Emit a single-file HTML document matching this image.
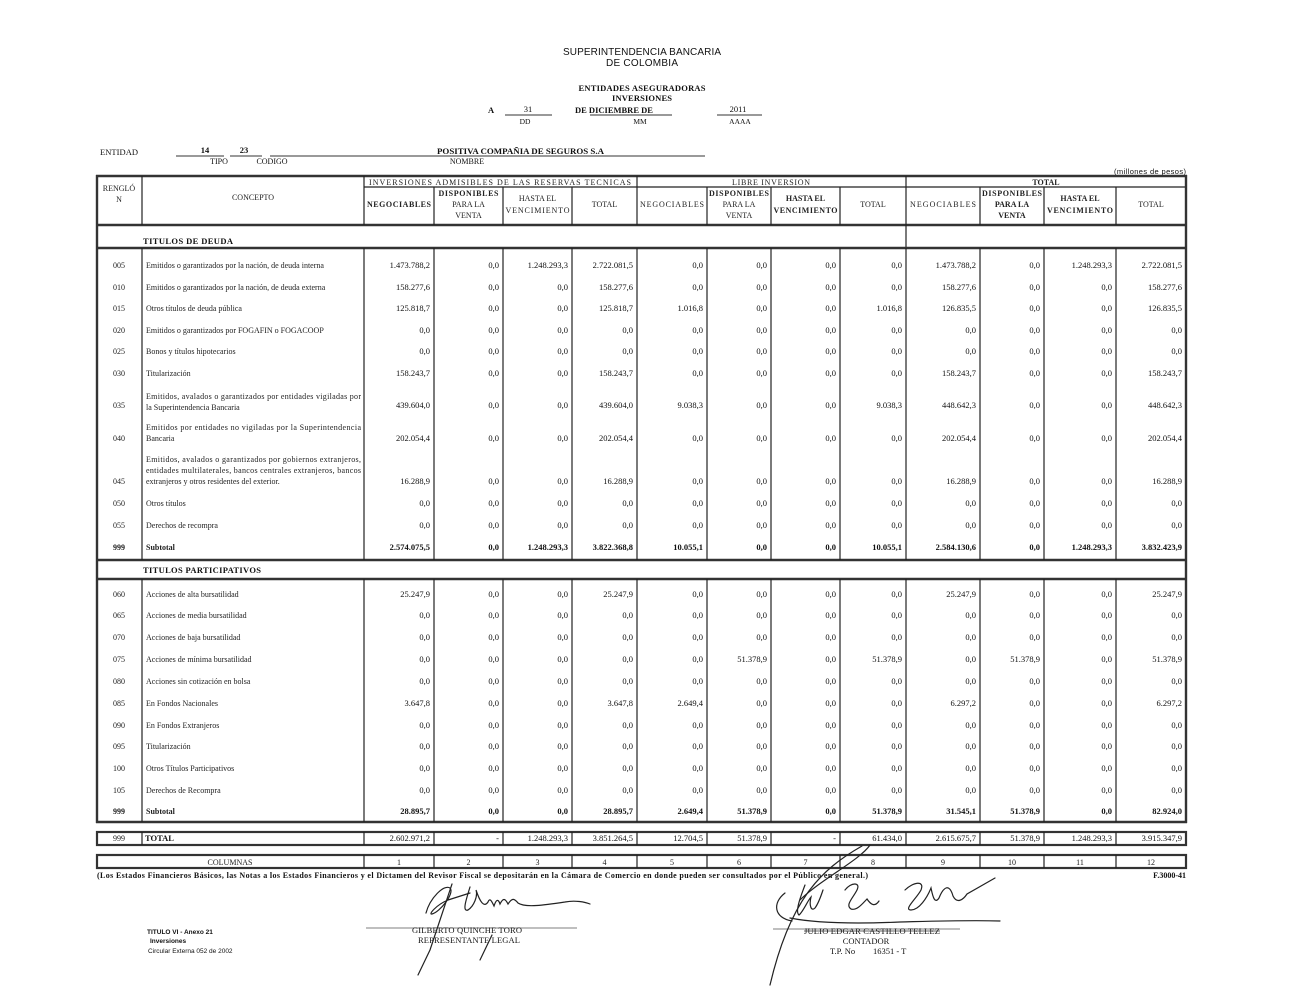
<!DOCTYPE html>
<html><head><meta charset="utf-8">
<style>
html,body{margin:0;padding:0;background:#fff;}
svg{display:block;}
.s{font-family:"Liberation Serif",serif;fill:#111;}
.ss{font-family:"Liberation Sans",sans-serif;fill:#111;}
.b{font-weight:bold;}
.n{font-family:"Liberation Serif",serif;font-size:8.5px;fill:#111;text-anchor:end;}
.c{font-family:"Liberation Serif",serif;font-size:8px;fill:#222;}
.k{font-family:"Liberation Serif",serif;font-size:8px;fill:#222;text-anchor:middle;}
.h{font-family:"Liberation Serif",serif;font-size:8px;fill:#222;text-anchor:middle;}
.m{text-anchor:middle;}
.L{stroke:#222;stroke-width:1.2;}
.T{stroke:#333;stroke-width:2.4;}
.sig{fill:none;stroke:#222;stroke-width:1.2;stroke-linecap:round;}
</style></head>
<body>
<svg width="1294" height="1000" viewBox="0 0 1294 1000" xmlns="http://www.w3.org/2000/svg">
<rect width="1294" height="1000" fill="#fff"/>

<!-- Title -->
<text class="ss m" x="642" y="55" font-size="10" textLength="158">SUPERINTENDENCIA BANCARIA</text>
<text class="ss m" x="642" y="66" font-size="10" textLength="72">DE COLOMBIA</text>
<text class="s b m" x="642" y="91" font-size="8.5" textLength="127">ENTIDADES ASEGURADORAS</text>
<text class="s b m" x="642" y="101" font-size="8.5" textLength="60">INVERSIONES</text>
<text class="s b" x="488" y="113" font-size="8.5">A</text>
<text class="s m" x="528" y="112" font-size="8.5">31</text>
<line x1="505" y1="115" x2="552" y2="115" stroke="#333" stroke-width="1"/>
<text class="s b" x="575" y="113" font-size="8.5">DE DICIEMBRE  DE</text>
<line x1="590" y1="115" x2="672" y2="115" stroke="#333" stroke-width="1"/>
<text class="s m" x="738" y="112" font-size="8.5">2011</text>
<line x1="717" y1="115" x2="762" y2="115" stroke="#333" stroke-width="1"/>
<text class="s m" x="525" y="124" font-size="7.5">DD</text>
<text class="s m" x="640" y="124" font-size="7.5">MM</text>
<text class="s m" x="740" y="124" font-size="7.5">AAAA</text>

<text class="s" x="100" y="155" font-size="8.5" textLength="38">ENTIDAD</text>
<text class="s b m" x="205" y="153" font-size="8.5">14</text>
<line x1="176" y1="156" x2="224" y2="156" stroke="#333" stroke-width="1"/>
<text class="s b m" x="244" y="153" font-size="8.5">23</text>
<line x1="230" y1="156" x2="262" y2="156" stroke="#333" stroke-width="1"/>
<line x1="270" y1="156" x2="705" y2="156" stroke="#333" stroke-width="1"/>
<text class="s b" x="437" y="154" font-size="8.5" textLength="167" lengthAdjust="spacingAndGlyphs">POSITIVA COMPAÑIA DE SEGUROS S.A</text>
<text class="s m" x="219" y="164" font-size="8">TIPO</text>
<text class="s m" x="272" y="164" font-size="8">CODIGO</text>
<text class="s m" x="467" y="164" font-size="8">NOMBRE</text>
<text class="ss" x="1114" y="174" font-size="7.5" textLength="72">(millones de pesos)</text>

<!-- Header -->
<line class="T" x1="96" y1="176" x2="1187" y2="176"/>
<line class="L" x1="364" y1="187" x2="1186" y2="187"/>
<line class="T" x1="96" y1="225" x2="1187" y2="225"/>
<line class="L" x1="142" y1="176" x2="142" y2="225"/>
<line class="L" x1="364" y1="176" x2="364" y2="225"/>
<line class="L" x1="637" y1="176" x2="637" y2="225"/>
<line class="L" x1="906" y1="176" x2="906" y2="225"/>
<line class="L" x1="434" y1="187" x2="434" y2="225"/>
<line class="L" x1="503" y1="187" x2="503" y2="225"/>
<line class="L" x1="572" y1="187" x2="572" y2="225"/>
<line class="L" x1="707" y1="187" x2="707" y2="225"/>
<line class="L" x1="771" y1="187" x2="771" y2="225"/>
<line class="L" x1="840" y1="187" x2="840" y2="225"/>
<line class="L" x1="980" y1="187" x2="980" y2="225"/>
<line class="L" x1="1044" y1="187" x2="1044" y2="225"/>
<line class="L" x1="1116" y1="187" x2="1116" y2="225"/>

<text class="h" x="119" y="191">RENGLÓ</text>
<text class="h" x="119" y="202">N</text>
<text class="h" x="253" y="200">CONCEPTO</text>
<text class="h" x="500" y="185" textLength="262">INVERSIONES ADMISIBLES DE LAS RESERVAS TECNICAS</text>
<text class="h" x="771" y="185" textLength="78">LIBRE INVERSION</text>
<text class="h b" x="1046" y="185">TOTAL</text>

<text class="h b" x="399" y="207" textLength="64">NEGOCIABLES</text>
<text class="h b" x="468.5" y="196" textLength="60">DISPONIBLES</text>
<text class="h" x="468.5" y="207">PARA LA</text>
<text class="h" x="468.5" y="218">VENTA</text>
<text class="h" x="537.5" y="201">HASTA EL</text>
<text class="h" x="537.5" y="213" textLength="64">VENCIMIENTO</text>
<text class="h" x="604.5" y="207">TOTAL</text>

<text class="h" x="672" y="207" textLength="64">NEGOCIABLES</text>
<text class="h b" x="739" y="196" textLength="60">DISPONIBLES</text>
<text class="h" x="739" y="207">PARA LA</text>
<text class="h" x="739" y="218">VENTA</text>
<text class="h b" x="805.5" y="201">HASTA EL</text>
<text class="h b" x="805.5" y="213" textLength="64">VENCIMIENTO</text>
<text class="h" x="873" y="207">TOTAL</text>

<text class="h" x="943" y="207" textLength="66">NEGOCIABLES</text>
<text class="h b" x="1012" y="196" textLength="60">DISPONIBLES</text>
<text class="h b" x="1012" y="207">PARA LA</text>
<text class="h b" x="1012" y="218">VENTA</text>
<text class="h b" x="1080" y="201">HASTA EL</text>
<text class="h b" x="1080" y="213" textLength="66">VENCIMIENTO</text>
<text class="h" x="1151" y="207">TOTAL</text>

<!-- Outer left/right borders -->
<line class="T" x1="97" y1="175" x2="97" y2="823"/>
<line class="T" x1="1186" y1="175" x2="1186" y2="823"/>

<!-- Titulos de deuda row -->
<text class="s b" x="143" y="244" font-size="8.5" textLength="90">TITULOS DE DEUDA</text>
<line class="L" x1="906" y1="225" x2="906" y2="248"/>
<line class="T" x1="96" y1="248" x2="1187" y2="248"/>
<line class="T" x1="96" y1="560" x2="1187" y2="560"/>
<g>
<line class="L" x1="142" y1="248" x2="142" y2="560"/>
<line class="L" x1="364" y1="248" x2="364" y2="560"/>
<line class="L" x1="434" y1="248" x2="434" y2="560"/>
<line class="L" x1="503" y1="248" x2="503" y2="560"/>
<line class="L" x1="572" y1="248" x2="572" y2="560"/>
<line class="L" x1="637" y1="248" x2="637" y2="560"/>
<line class="L" x1="707" y1="248" x2="707" y2="560"/>
<line class="L" x1="771" y1="248" x2="771" y2="560"/>
<line class="L" x1="840" y1="248" x2="840" y2="560"/>
<line class="L" x1="906" y1="248" x2="906" y2="560"/>
<line class="L" x1="980" y1="248" x2="980" y2="560"/>
<line class="L" x1="1044" y1="248" x2="1044" y2="560"/>
<line class="L" x1="1116" y1="248" x2="1116" y2="560"/>
</g>

<!-- Section 1 rows -->
<text class="k" x="119" y="268">005</text>
<text class="c" x="146" y="268">Emitidos o garantizados por la nación, de deuda interna</text>
<text class="n" x="430" y="268">1.473.788,2</text><text class="n" x="499" y="268">0,0</text><text class="n" x="568" y="268">1.248.293,3</text><text class="n" x="633" y="268">2.722.081,5</text><text class="n" x="703" y="268">0,0</text><text class="n" x="767" y="268">0,0</text><text class="n" x="836" y="268">0,0</text><text class="n" x="902" y="268">0,0</text><text class="n" x="976" y="268">1.473.788,2</text><text class="n" x="1040" y="268">0,0</text><text class="n" x="1112" y="268">1.248.293,3</text><text class="n" x="1182" y="268">2.722.081,5</text>

<text class="k" x="119" y="290">010</text>
<text class="c" x="146" y="290">Emitidos o garantizados por la nación, de deuda externa</text>
<text class="n" x="430" y="290">158.277,6</text><text class="n" x="499" y="290">0,0</text><text class="n" x="568" y="290">0,0</text><text class="n" x="633" y="290">158.277,6</text><text class="n" x="703" y="290">0,0</text><text class="n" x="767" y="290">0,0</text><text class="n" x="836" y="290">0,0</text><text class="n" x="902" y="290">0,0</text><text class="n" x="976" y="290">158.277,6</text><text class="n" x="1040" y="290">0,0</text><text class="n" x="1112" y="290">0,0</text><text class="n" x="1182" y="290">158.277,6</text>

<text class="k" x="119" y="311">015</text>
<text class="c" x="146" y="311">Otros títulos de deuda pública</text>
<text class="n" x="430" y="311">125.818,7</text><text class="n" x="499" y="311">0,0</text><text class="n" x="568" y="311">0,0</text><text class="n" x="633" y="311">125.818,7</text><text class="n" x="703" y="311">1.016,8</text><text class="n" x="767" y="311">0,0</text><text class="n" x="836" y="311">0,0</text><text class="n" x="902" y="311">1.016,8</text><text class="n" x="976" y="311">126.835,5</text><text class="n" x="1040" y="311">0,0</text><text class="n" x="1112" y="311">0,0</text><text class="n" x="1182" y="311">126.835,5</text>

<text class="k" x="119" y="333">020</text>
<text class="c" x="146" y="333">Emitidos o garantizados por FOGAFIN o FOGACOOP</text>
<text class="n" x="430" y="333">0,0</text><text class="n" x="499" y="333">0,0</text><text class="n" x="568" y="333">0,0</text><text class="n" x="633" y="333">0,0</text><text class="n" x="703" y="333">0,0</text><text class="n" x="767" y="333">0,0</text><text class="n" x="836" y="333">0,0</text><text class="n" x="902" y="333">0,0</text><text class="n" x="976" y="333">0,0</text><text class="n" x="1040" y="333">0,0</text><text class="n" x="1112" y="333">0,0</text><text class="n" x="1182" y="333">0,0</text>

<text class="k" x="119" y="354">025</text>
<text class="c" x="146" y="354">Bonos y títulos hipotecarios</text>
<text class="n" x="430" y="354">0,0</text><text class="n" x="499" y="354">0,0</text><text class="n" x="568" y="354">0,0</text><text class="n" x="633" y="354">0,0</text><text class="n" x="703" y="354">0,0</text><text class="n" x="767" y="354">0,0</text><text class="n" x="836" y="354">0,0</text><text class="n" x="902" y="354">0,0</text><text class="n" x="976" y="354">0,0</text><text class="n" x="1040" y="354">0,0</text><text class="n" x="1112" y="354">0,0</text><text class="n" x="1182" y="354">0,0</text>

<text class="k" x="119" y="376">030</text>
<text class="c" x="146" y="376">Titularización</text>
<text class="n" x="430" y="376">158.243,7</text><text class="n" x="499" y="376">0,0</text><text class="n" x="568" y="376">0,0</text><text class="n" x="633" y="376">158.243,7</text><text class="n" x="703" y="376">0,0</text><text class="n" x="767" y="376">0,0</text><text class="n" x="836" y="376">0,0</text><text class="n" x="902" y="376">0,0</text><text class="n" x="976" y="376">158.243,7</text><text class="n" x="1040" y="376">0,0</text><text class="n" x="1112" y="376">0,0</text><text class="n" x="1182" y="376">158.243,7</text>

<text class="k" x="119" y="408">035</text>
<text class="c" x="146" y="399" textLength="215" lengthAdjust="spacing">Emitidos, avalados o garantizados por entidades vigiladas por</text>
<text class="c" x="146" y="410">la Superintendencia Bancaria</text>
<text class="n" x="430" y="408">439.604,0</text><text class="n" x="499" y="408">0,0</text><text class="n" x="568" y="408">0,0</text><text class="n" x="633" y="408">439.604,0</text><text class="n" x="703" y="408">9.038,3</text><text class="n" x="767" y="408">0,0</text><text class="n" x="836" y="408">0,0</text><text class="n" x="902" y="408">9.038,3</text><text class="n" x="976" y="408">448.642,3</text><text class="n" x="1040" y="408">0,0</text><text class="n" x="1112" y="408">0,0</text><text class="n" x="1182" y="408">448.642,3</text>

<text class="k" x="119" y="441">040</text>
<text class="c" x="146" y="430" textLength="215" lengthAdjust="spacing">Emitidos por entidades no vigiladas por la Superintendencia</text>
<text class="c" x="146" y="441">Bancaria</text>
<text class="n" x="430" y="441">202.054,4</text><text class="n" x="499" y="441">0,0</text><text class="n" x="568" y="441">0,0</text><text class="n" x="633" y="441">202.054,4</text><text class="n" x="703" y="441">0,0</text><text class="n" x="767" y="441">0,0</text><text class="n" x="836" y="441">0,0</text><text class="n" x="902" y="441">0,0</text><text class="n" x="976" y="441">202.054,4</text><text class="n" x="1040" y="441">0,0</text><text class="n" x="1112" y="441">0,0</text><text class="n" x="1182" y="441">202.054,4</text>

<text class="k" x="119" y="484">045</text>
<text class="c" x="146" y="462" textLength="215" lengthAdjust="spacing">Emitidos, avalados o garantizados por gobiernos extranjeros,</text>
<text class="c" x="146" y="473" textLength="215" lengthAdjust="spacing">entidades multilaterales, bancos centrales extranjeros, bancos</text>
<text class="c" x="146" y="484">extranjeros y otros residentes del exterior.</text>
<text class="n" x="430" y="484">16.288,9</text><text class="n" x="499" y="484">0,0</text><text class="n" x="568" y="484">0,0</text><text class="n" x="633" y="484">16.288,9</text><text class="n" x="703" y="484">0,0</text><text class="n" x="767" y="484">0,0</text><text class="n" x="836" y="484">0,0</text><text class="n" x="902" y="484">0,0</text><text class="n" x="976" y="484">16.288,9</text><text class="n" x="1040" y="484">0,0</text><text class="n" x="1112" y="484">0,0</text><text class="n" x="1182" y="484">16.288,9</text>

<text class="k" x="119" y="506">050</text>
<text class="c" x="146" y="506">Otros títulos</text>
<text class="n" x="430" y="506">0,0</text><text class="n" x="499" y="506">0,0</text><text class="n" x="568" y="506">0,0</text><text class="n" x="633" y="506">0,0</text><text class="n" x="703" y="506">0,0</text><text class="n" x="767" y="506">0,0</text><text class="n" x="836" y="506">0,0</text><text class="n" x="902" y="506">0,0</text><text class="n" x="976" y="506">0,0</text><text class="n" x="1040" y="506">0,0</text><text class="n" x="1112" y="506">0,0</text><text class="n" x="1182" y="506">0,0</text>

<text class="k" x="119" y="528">055</text>
<text class="c" x="146" y="528">Derechos de recompra</text>
<text class="n" x="430" y="528">0,0</text><text class="n" x="499" y="528">0,0</text><text class="n" x="568" y="528">0,0</text><text class="n" x="633" y="528">0,0</text><text class="n" x="703" y="528">0,0</text><text class="n" x="767" y="528">0,0</text><text class="n" x="836" y="528">0,0</text><text class="n" x="902" y="528">0,0</text><text class="n" x="976" y="528">0,0</text><text class="n" x="1040" y="528">0,0</text><text class="n" x="1112" y="528">0,0</text><text class="n" x="1182" y="528">0,0</text>

<g font-weight="bold">
<text class="k b" x="119" y="550">999</text>
<text class="c" x="146" y="550">Subtotal</text>
<text class="n b" x="430" y="550">2.574.075,5</text><text class="n b" x="499" y="550">0,0</text><text class="n b" x="568" y="550">1.248.293,3</text><text class="n b" x="633" y="550">3.822.368,8</text><text class="n b" x="703" y="550">10.055,1</text><text class="n b" x="767" y="550">0,0</text><text class="n b" x="836" y="550">0,0</text><text class="n b" x="902" y="550">10.055,1</text><text class="n b" x="976" y="550">2.584.130,6</text><text class="n b" x="1040" y="550">0,0</text><text class="n b" x="1112" y="550">1.248.293,3</text><text class="n b" x="1182" y="550">3.832.423,9</text>
</g>

<!-- Titulos participativos -->
<text class="s b" x="143" y="573" font-size="8.5" textLength="118">TITULOS PARTICIPATIVOS</text>
<line class="T" x1="96" y1="579" x2="1187" y2="579"/>
<line class="T" x1="96" y1="822" x2="1187" y2="822"/>
<g>
<line class="L" x1="142" y1="579" x2="142" y2="822"/>
<line class="L" x1="364" y1="579" x2="364" y2="822"/>
<line class="L" x1="434" y1="579" x2="434" y2="822"/>
<line class="L" x1="503" y1="579" x2="503" y2="822"/>
<line class="L" x1="572" y1="579" x2="572" y2="822"/>
<line class="L" x1="637" y1="579" x2="637" y2="822"/>
<line class="L" x1="707" y1="579" x2="707" y2="822"/>
<line class="L" x1="771" y1="579" x2="771" y2="822"/>
<line class="L" x1="840" y1="579" x2="840" y2="822"/>
<line class="L" x1="906" y1="579" x2="906" y2="822"/>
<line class="L" x1="980" y1="579" x2="980" y2="822"/>
<line class="L" x1="1044" y1="579" x2="1044" y2="822"/>
<line class="L" x1="1116" y1="579" x2="1116" y2="822"/>
</g>

<text class="k" x="119" y="597">060</text>
<text class="c" x="146" y="597">Acciones de alta bursatilidad</text>
<text class="n" x="430" y="597">25.247,9</text><text class="n" x="499" y="597">0,0</text><text class="n" x="568" y="597">0,0</text><text class="n" x="633" y="597">25.247,9</text><text class="n" x="703" y="597">0,0</text><text class="n" x="767" y="597">0,0</text><text class="n" x="836" y="597">0,0</text><text class="n" x="902" y="597">0,0</text><text class="n" x="976" y="597">25.247,9</text><text class="n" x="1040" y="597">0,0</text><text class="n" x="1112" y="597">0,0</text><text class="n" x="1182" y="597">25.247,9</text>

<text class="k" x="119" y="618">065</text>
<text class="c" x="146" y="618">Acciones de media bursatilidad</text>
<text class="n" x="430" y="618">0,0</text><text class="n" x="499" y="618">0,0</text><text class="n" x="568" y="618">0,0</text><text class="n" x="633" y="618">0,0</text><text class="n" x="703" y="618">0,0</text><text class="n" x="767" y="618">0,0</text><text class="n" x="836" y="618">0,0</text><text class="n" x="902" y="618">0,0</text><text class="n" x="976" y="618">0,0</text><text class="n" x="1040" y="618">0,0</text><text class="n" x="1112" y="618">0,0</text><text class="n" x="1182" y="618">0,0</text>

<text class="k" x="119" y="640">070</text>
<text class="c" x="146" y="640">Acciones de baja bursatilidad</text>
<text class="n" x="430" y="640">0,0</text><text class="n" x="499" y="640">0,0</text><text class="n" x="568" y="640">0,0</text><text class="n" x="633" y="640">0,0</text><text class="n" x="703" y="640">0,0</text><text class="n" x="767" y="640">0,0</text><text class="n" x="836" y="640">0,0</text><text class="n" x="902" y="640">0,0</text><text class="n" x="976" y="640">0,0</text><text class="n" x="1040" y="640">0,0</text><text class="n" x="1112" y="640">0,0</text><text class="n" x="1182" y="640">0,0</text>

<text class="k" x="119" y="662">075</text>
<text class="c" x="146" y="662">Acciones de mínima bursatilidad</text>
<text class="n" x="430" y="662">0,0</text><text class="n" x="499" y="662">0,0</text><text class="n" x="568" y="662">0,0</text><text class="n" x="633" y="662">0,0</text><text class="n" x="703" y="662">0,0</text><text class="n" x="767" y="662">51.378,9</text><text class="n" x="836" y="662">0,0</text><text class="n" x="902" y="662">51.378,9</text><text class="n" x="976" y="662">0,0</text><text class="n" x="1040" y="662">51.378,9</text><text class="n" x="1112" y="662">0,0</text><text class="n" x="1182" y="662">51.378,9</text>

<text class="k" x="119" y="684">080</text>
<text class="c" x="146" y="684">Acciones sin cotización en bolsa</text>
<text class="n" x="430" y="684">0,0</text><text class="n" x="499" y="684">0,0</text><text class="n" x="568" y="684">0,0</text><text class="n" x="633" y="684">0,0</text><text class="n" x="703" y="684">0,0</text><text class="n" x="767" y="684">0,0</text><text class="n" x="836" y="684">0,0</text><text class="n" x="902" y="684">0,0</text><text class="n" x="976" y="684">0,0</text><text class="n" x="1040" y="684">0,0</text><text class="n" x="1112" y="684">0,0</text><text class="n" x="1182" y="684">0,0</text>

<text class="k" x="119" y="706">085</text>
<text class="c" x="146" y="706">En Fondos Nacionales</text>
<text class="n" x="430" y="706">3.647,8</text><text class="n" x="499" y="706">0,0</text><text class="n" x="568" y="706">0,0</text><text class="n" x="633" y="706">3.647,8</text><text class="n" x="703" y="706">2.649,4</text><text class="n" x="767" y="706">0,0</text><text class="n" x="836" y="706">0,0</text><text class="n" x="902" y="706">0,0</text><text class="n" x="976" y="706">6.297,2</text><text class="n" x="1040" y="706">0,0</text><text class="n" x="1112" y="706">0,0</text><text class="n" x="1182" y="706">6.297,2</text>

<text class="k" x="119" y="728">090</text>
<text class="c" x="146" y="728">En Fondos Extranjeros</text>
<text class="n" x="430" y="728">0,0</text><text class="n" x="499" y="728">0,0</text><text class="n" x="568" y="728">0,0</text><text class="n" x="633" y="728">0,0</text><text class="n" x="703" y="728">0,0</text><text class="n" x="767" y="728">0,0</text><text class="n" x="836" y="728">0,0</text><text class="n" x="902" y="728">0,0</text><text class="n" x="976" y="728">0,0</text><text class="n" x="1040" y="728">0,0</text><text class="n" x="1112" y="728">0,0</text><text class="n" x="1182" y="728">0,0</text>

<text class="k" x="119" y="749">095</text>
<text class="c" x="146" y="749">Titularización</text>
<text class="n" x="430" y="749">0,0</text><text class="n" x="499" y="749">0,0</text><text class="n" x="568" y="749">0,0</text><text class="n" x="633" y="749">0,0</text><text class="n" x="703" y="749">0,0</text><text class="n" x="767" y="749">0,0</text><text class="n" x="836" y="749">0,0</text><text class="n" x="902" y="749">0,0</text><text class="n" x="976" y="749">0,0</text><text class="n" x="1040" y="749">0,0</text><text class="n" x="1112" y="749">0,0</text><text class="n" x="1182" y="749">0,0</text>

<text class="k" x="119" y="771">100</text>
<text class="c" x="146" y="771">Otros Títulos Participativos</text>
<text class="n" x="430" y="771">0,0</text><text class="n" x="499" y="771">0,0</text><text class="n" x="568" y="771">0,0</text><text class="n" x="633" y="771">0,0</text><text class="n" x="703" y="771">0,0</text><text class="n" x="767" y="771">0,0</text><text class="n" x="836" y="771">0,0</text><text class="n" x="902" y="771">0,0</text><text class="n" x="976" y="771">0,0</text><text class="n" x="1040" y="771">0,0</text><text class="n" x="1112" y="771">0,0</text><text class="n" x="1182" y="771">0,0</text>

<text class="k" x="119" y="793">105</text>
<text class="c" x="146" y="793">Derechos de Recompra</text>
<text class="n" x="430" y="793">0,0</text><text class="n" x="499" y="793">0,0</text><text class="n" x="568" y="793">0,0</text><text class="n" x="633" y="793">0,0</text><text class="n" x="703" y="793">0,0</text><text class="n" x="767" y="793">0,0</text><text class="n" x="836" y="793">0,0</text><text class="n" x="902" y="793">0,0</text><text class="n" x="976" y="793">0,0</text><text class="n" x="1040" y="793">0,0</text><text class="n" x="1112" y="793">0,0</text><text class="n" x="1182" y="793">0,0</text>

<g font-weight="bold">
<text class="k" x="119" y="814">999</text>
<text class="c" x="146" y="814">Subtotal</text>
<text class="n" x="430" y="814">28.895,7</text><text class="n" x="499" y="814">0,0</text><text class="n" x="568" y="814">0,0</text><text class="n" x="633" y="814">28.895,7</text><text class="n" x="703" y="814">2.649,4</text><text class="n" x="767" y="814">51.378,9</text><text class="n" x="836" y="814">0,0</text><text class="n" x="902" y="814">51.378,9</text><text class="n" x="976" y="814">31.545,1</text><text class="n" x="1040" y="814">51.378,9</text><text class="n" x="1112" y="814">0,0</text><text class="n" x="1182" y="814">82.924,0</text>
</g>

<!-- TOTAL row -->
<rect x="97" y="832" width="1089" height="13" fill="none" stroke="#333" stroke-width="2.2"/>
<g>
<line class="L" x1="142" y1="832" x2="142" y2="845"/>
<line class="L" x1="364" y1="832" x2="364" y2="845"/>
<line class="L" x1="434" y1="832" x2="434" y2="845"/>
<line class="L" x1="503" y1="832" x2="503" y2="845"/>
<line class="L" x1="572" y1="832" x2="572" y2="845"/>
<line class="L" x1="637" y1="832" x2="637" y2="845"/>
<line class="L" x1="707" y1="832" x2="707" y2="845"/>
<line class="L" x1="771" y1="832" x2="771" y2="845"/>
<line class="L" x1="840" y1="832" x2="840" y2="845"/>
<line class="L" x1="906" y1="832" x2="906" y2="845"/>
<line class="L" x1="980" y1="832" x2="980" y2="845"/>
<line class="L" x1="1044" y1="832" x2="1044" y2="845"/>
<line class="L" x1="1116" y1="832" x2="1116" y2="845"/>
</g>
<text class="k" x="119" y="841">999</text>
<text class="s b" x="145" y="841" font-size="8.5">TOTAL</text>
<text class="n" x="430" y="841">2.602.971,2</text><text class="n" x="499" y="841">-</text><text class="n" x="568" y="841">1.248.293,3</text><text class="n" x="633" y="841">3.851.264,5</text><text class="n" x="703" y="841">12.704,5</text><text class="n" x="767" y="841">51.378,9</text><text class="n" x="836" y="841">-</text><text class="n" x="902" y="841">61.434,0</text><text class="n" x="976" y="841">2.615.675,7</text><text class="n" x="1040" y="841">51.378,9</text><text class="n" x="1112" y="841">1.248.293,3</text><text class="n" x="1182" y="841">3.915.347,9</text>

<!-- COLUMNAS row -->
<rect x="97" y="855" width="1089" height="13" fill="none" stroke="#333" stroke-width="2.2"/>
<g>
<line class="L" x1="364" y1="855" x2="364" y2="868"/>
<line class="L" x1="434" y1="855" x2="434" y2="868"/>
<line class="L" x1="503" y1="855" x2="503" y2="868"/>
<line class="L" x1="572" y1="855" x2="572" y2="868"/>
<line class="L" x1="637" y1="855" x2="637" y2="868"/>
<line class="L" x1="707" y1="855" x2="707" y2="868"/>
<line class="L" x1="771" y1="855" x2="771" y2="868"/>
<line class="L" x1="840" y1="855" x2="840" y2="868"/>
<line class="L" x1="906" y1="855" x2="906" y2="868"/>
<line class="L" x1="980" y1="855" x2="980" y2="868"/>
<line class="L" x1="1044" y1="855" x2="1044" y2="868"/>
<line class="L" x1="1116" y1="855" x2="1116" y2="868"/>
</g>
<text class="k" x="230" y="865">COLUMNAS</text>
<text class="k" x="399" y="865">1</text><text class="k" x="468.5" y="865">2</text><text class="k" x="537.5" y="865">3</text><text class="k" x="604.5" y="865">4</text><text class="k" x="672" y="865">5</text><text class="k" x="739" y="865">6</text><text class="k" x="805.5" y="865">7</text><text class="k" x="873" y="865">8</text><text class="k" x="943" y="865">9</text><text class="k" x="1012" y="865">10</text><text class="k" x="1080" y="865">11</text><text class="k" x="1151" y="865">12</text>

<!-- footnote -->
<text class="s b" x="97" y="878" font-size="8" textLength="771" lengthAdjust="spacing">(Los Estados Financieros Básicos, las Notas a los Estados Financieros y el Dictamen del Revisor Fiscal se depositarán en la Cámara de Comercio en donde pueden ser consultados por el Público en general.)</text>
<text class="s b" x="1186" y="878" font-size="8" text-anchor="end">F.3000-41</text>

<!-- bottom left -->
<text class="ss b" x="147" y="934" font-size="6.5">TITULO VI - Anexo 21</text>
<text class="ss b" x="150" y="943" font-size="6.5">Inversiones</text>
<text class="ss" x="148" y="953" font-size="6.5">Circular Externa 052 de 2002</text>

<!-- signature 1 -->
<line x1="366" y1="928" x2="577" y2="928" stroke="#555" stroke-width="0.8"/>
<text class="s" x="412" y="933" font-size="8.5" textLength="110">GILBERTO QUINCHE TORO</text>
<text class="s" x="418" y="943" font-size="8.5" textLength="102">REPRESENTANTE LEGAL</text>
<path class="sig" d="M426 913 C430 898 444 884 450 888 C455 893 440 912 432 914 C428 915 436 905 448 900 L470 893"/>
<path class="sig" d="M452 884 L440 920 L430 950 L418 975"/>
<path class="sig" d="M470 887 C466 900 462 912 468 910 C474 906 478 896 476 890 C480 902 484 908 488 902 C490 897 492 902 494 906 C496 900 498 898 500 904 C503 898 505 898 508 904 C512 898 514 898 518 903 C525 908 545 905 565 902 C575 900 585 902 590 904"/>
<path class="sig" d="M492 935 L480 960"/>
<!-- signature 2 -->
<line x1="773" y1="929" x2="960" y2="929" stroke="#555" stroke-width="0.8"/>
<path class="sig" d="M790 918 C800 920 830 925 900 922 C940 921 970 920 1000 921" stroke-width="1.5"/>
<text class="s" x="804" y="934" font-size="8.5" textLength="136">JULIO EDGAR CASTILLO TELLEZ</text>
<line x1="804" y1="931" x2="940" y2="931" stroke="#333" stroke-width="0.8"/>
<text class="s m" x="866" y="944" font-size="8.5">CONTADOR</text>
<text class="s" x="830" y="954" font-size="8.5">T.P. No</text>
<text class="s" x="873" y="954" font-size="8.5">16351 - T</text>
<path class="sig" d="M785 893 C772 903 774 918 792 921"/>
<path class="sig" d="M805 885 C800 898 795 912 799 915 C803 912 808 900 811 897 C809 905 811 912 815 908 C818 904 821 896 823 890"/>
<path class="sig" d="M845 890 C851 882 861 882 857 890 C853 898 845 905 851 909 C857 911 863 903 867 899 C871 905 875 907 879 901"/>
<path class="sig" d="M905 890 C913 882 925 880 921 890 C917 898 903 910 911 910 C919 910 927 898 931 888 C933 898 935 904 939 898 C943 888 949 882 953 896 C957 904 963 900 967 894 L995 878"/>
<path class="sig" d="M862 846 C820 870 790 900 770 985" stroke-width="0.7"/>
<path class="sig" d="M870 845 C860 860 820 880 800 900" stroke-width="0.6"/>
</svg>
</body></html>
